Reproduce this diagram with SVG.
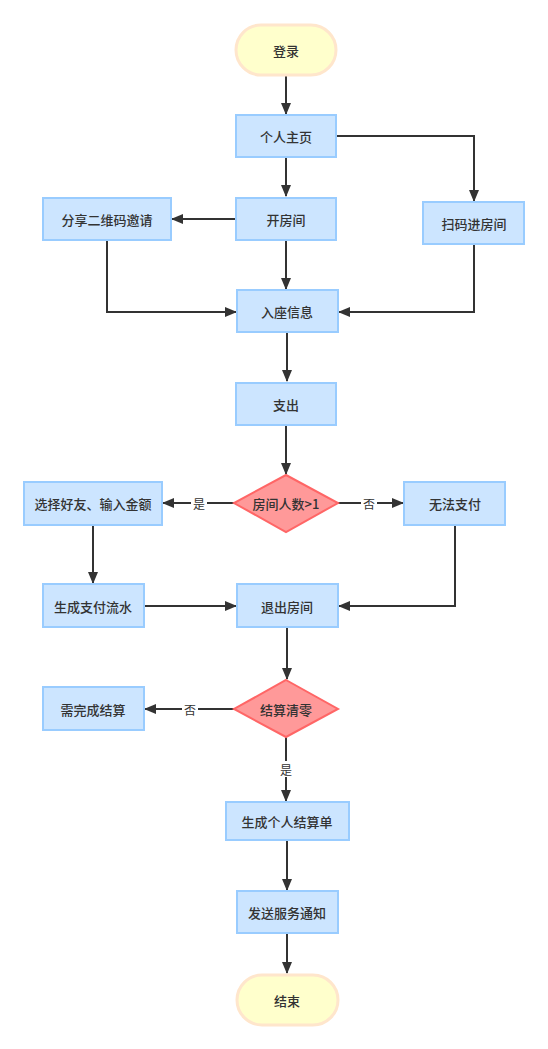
<svg xmlns="http://www.w3.org/2000/svg" width="548" height="1049" viewBox="0 0 548 1049">
<style>
.term{fill:#FFFFCC;stroke:#FFE6CC;stroke-width:3}
.box{fill:#CCE5FF;stroke:#99CCFF;stroke-width:2}
.dia{fill:#FF9999;stroke:#FF6666;stroke-width:2}
.t{font-family:"Noto Sans CJK SC","Liberation Sans",sans-serif;font-size:13px;font-weight:500;fill:#333;text-anchor:middle;dominant-baseline:central}
.lbl{font-family:"Noto Sans CJK SC","Liberation Sans",sans-serif;font-size:12px;fill:#333;text-anchor:middle;dominant-baseline:central}
.e{fill:none;stroke:#333;stroke-width:2}
</style>
<defs>
<marker id="ah" markerUnits="userSpaceOnUse" markerWidth="12" markerHeight="12" viewBox="0 0 12 12" refX="11" refY="6" orient="auto">
<path d="M0,1 L12,6 L0,11 Z" fill="#333"/>
</marker>
</defs>
<rect width="548" height="1049" fill="#fff"/>
<g id="connectors">
<path class="e" d="M286,75 V114" marker-end="url(#ah)"/>
<path class="e" d="M286,157 V196" marker-end="url(#ah)"/>
<path class="e" d="M336,136 H474 V201" marker-end="url(#ah)"/>
<path class="e" d="M236,219 H172" marker-end="url(#ah)"/>
<path class="e" d="M286,240 V289" marker-end="url(#ah)"/>
<path class="e" d="M107,240 V312 H236" marker-end="url(#ah)"/>
<path class="e" d="M474,244 V312 H339" marker-end="url(#ah)"/>
<path class="e" d="M287,332 V381" marker-end="url(#ah)"/>
<path class="e" d="M286,425 V474" marker-end="url(#ah)"/>
<path class="e" d="M234,503 H163" marker-end="url(#ah)"/>
<path class="e" d="M338,503 H403" marker-end="url(#ah)"/>
<path class="e" d="M93,525 V583" marker-end="url(#ah)"/>
<path class="e" d="M144,606 H236" marker-end="url(#ah)"/>
<path class="e" d="M455,525 V606 H339" marker-end="url(#ah)"/>
<path class="e" d="M287,627 V679" marker-end="url(#ah)"/>
<path class="e" d="M234,709 H145" marker-end="url(#ah)"/>
<path class="e" d="M286,737 V801" marker-end="url(#ah)"/>
<path class="e" d="M287,840 V890" marker-end="url(#ah)"/>
<path class="e" d="M287,933 V973" marker-end="url(#ah)"/>
<rect x="191" y="495" width="16" height="16" fill="#fff"/>
<text class="lbl" x="199" y="503">是</text>
<rect x="361" y="495" width="16" height="16" fill="#fff"/>
<text class="lbl" x="369" y="503">否</text>
<rect x="182" y="701" width="16" height="16" fill="#fff"/>
<text class="lbl" x="190" y="709">否</text>
<rect x="278" y="761" width="16" height="16" fill="#fff"/>
<text class="lbl" x="286" y="769">是</text>
</g>
<g id="n-login"><rect class="term" x="236" y="25" width="100" height="50" rx="25"/><text class="t" x="286" y="50">登录</text></g>
<g id="n-home"><rect class="box" x="236" y="115" width="100" height="42"/><text class="t" x="286" y="136">个人主页</text></g>
<g id="n-open"><rect class="box" x="236" y="198" width="100" height="42"/><text class="t" x="286" y="219">开房间</text></g>
<g id="n-share"><rect class="box" x="43" y="198" width="128" height="42"/><text class="t" x="107" y="219">分享二维码邀请</text></g>
<g id="n-scan"><rect class="box" x="423" y="202" width="101" height="42"/><text class="t" x="474" y="223">扫码进房间</text></g>
<g id="n-seat"><rect class="box" x="237" y="290" width="101" height="42"/><text class="t" x="287" y="311">入座信息</text></g>
<g id="n-pay"><rect class="box" x="236" y="383" width="100" height="42"/><text class="t" x="286" y="404">支出</text></g>
<g id="n-d1"><polygon class="dia" points="286,475 338,503 286,532 234,503"/><text class="t" x="286" y="503">房间人数&gt;1</text></g>
<g id="n-select"><rect class="box" x="24" y="482" width="138" height="43"/><text class="t" x="93" y="503">选择好友、输入金额</text></g>
<g id="n-nopay"><rect class="box" x="404" y="482" width="101" height="43"/><text class="t" x="455" y="503">无法支付</text></g>
<g id="n-flow"><rect class="box" x="43" y="584" width="101" height="43"/><text class="t" x="93" y="606">生成支付流水</text></g>
<g id="n-exit"><rect class="box" x="237" y="584" width="101" height="43"/><text class="t" x="287" y="606">退出房间</text></g>
<g id="n-d2"><polygon class="dia" points="286,680 338,709 286,737 234,709"/><text class="t" x="286" y="709">结算清零</text></g>
<g id="n-need"><rect class="box" x="43" y="687" width="101" height="43"/><text class="t" x="93" y="709">需完成结算</text></g>
<g id="n-bill"><rect class="box" x="226" y="802" width="123" height="38"/><text class="t" x="287" y="821">生成个人结算单</text></g>
<g id="n-notify"><rect class="box" x="237" y="891" width="101" height="42"/><text class="t" x="287" y="912">发送服务通知</text></g>
<g id="n-end"><rect class="term" x="237" y="975" width="101" height="50" rx="25"/><text class="t" x="287" y="1000">结束</text></g>
</svg>
